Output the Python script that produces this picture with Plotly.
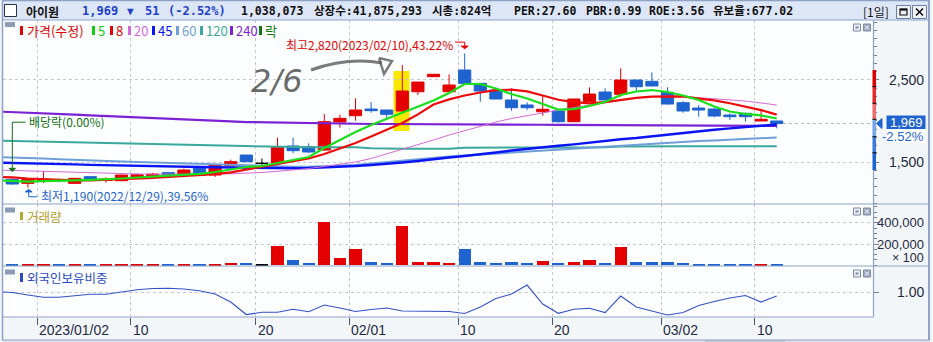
import plotly.graph_objects as go

W, H = 933, 342

# ---------------- data ----------------
dates = ["2022/12/28", "2022/12/29", "2023/01/02", "2023/01/03", "2023/01/04", "2023/01/05", "2023/01/06",
         "2023/01/09", "2023/01/10", "2023/01/11", "2023/01/12", "2023/01/13", "2023/01/16", "2023/01/17",
         "2023/01/18", "2023/01/19", "2023/01/20", "2023/01/25", "2023/01/26", "2023/01/27", "2023/01/30",
         "2023/01/31", "2023/02/01", "2023/02/02", "2023/02/03", "2023/02/06", "2023/02/07", "2023/02/08",
         "2023/02/09", "2023/02/10", "2023/02/13", "2023/02/14", "2023/02/15", "2023/02/16", "2023/02/17",
         "2023/02/20", "2023/02/21", "2023/02/22", "2023/02/23", "2023/02/24", "2023/02/27", "2023/02/28",
         "2023/03/02", "2023/03/03", "2023/03/06", "2023/03/07", "2023/03/08", "2023/03/09", "2023/03/10",
         "2023/03/13"]

opens = [1290, 1242, 1270, 1285, 1242, 1323, 1278, 1274, 1323, 1330,
         1372, 1355, 1425, 1343, 1456, 1586, 1485, 1485, 1696, 1687,
         1647, 1987, 2064, 2145, 2133, 2121, 2355, 2538, 2355, 2619,
         2457, 2376, 2255, 2194, 2112, 2121, 1991, 2234, 2352, 2324,
         2498, 2482, 2348, 2222, 2157, 2145, 2072, 2093, 2000, 2000]
highs = [1300, 1295, 1390, 1300, 1310, 1325, 1315, 1345, 1360, 1370,
         1375, 1420, 1425, 1475, 1530, 1586, 1545, 1797, 1797, 1728,
         2084, 2076, 2275, 2230, 2135, 2680, 2475, 2570, 2567, 2820,
         2457, 2404, 2397, 2227, 2303, 2121, 2267, 2409, 2397, 2640,
         2498, 2591, 2409, 2242, 2194, 2161, 2093, 2100, 2133, 2000]
lows = [1225, 1190, 1245, 1255, 1235, 1280, 1250, 1270, 1310, 1318,
        1340, 1330, 1340, 1320, 1440, 1505, 1430, 1465, 1607, 1611,
        1635, 1918, 2003, 2100, 2032, 2109, 2315, 2535, 2355, 2457,
        2234, 2267, 2125, 2133, 2064, 1979, 1991, 2234, 2255, 2295,
        2355, 2425, 2200, 2100, 2052, 2044, 2012, 1991, 2000, 1911]
closes = [1234, 1292, 1290, 1275, 1303, 1283, 1291, 1343, 1347, 1355,
          1347, 1404, 1343, 1465, 1505, 1505, 1485, 1680, 1639, 1623,
          1991, 2032, 2133, 2125, 2081, 2364, 2473, 2567, 2437, 2457,
          2364, 2267, 2161, 2161, 2142, 1991, 2267, 2327, 2255, 2498,
          2416, 2425, 2206, 2121, 2133, 2060, 2052, 2052, 2020, 1969]
volume = [9000, 9000, 9000, 8000, 9000, 8000, 9000, 9000, 9000, 9000,
          8000, 9000, 8000, 9000, 19000, 19000, 12000, 181000, 50000, 19000,
          405000, 71000, 153000, 31000, 19000, 369000, 28000, 28000, 19000, 153000,
          28000, 19000, 31000, 19000, 40000, 19000, 31000, 50000, 19000, 172000,
          28000, 28000, 28000, 19000, 9000, 9000, 9000, 9000, 9000, 9000]

# moving averages and foreign ownership: first value belongs to the session before 12/28
ma5 = [1277, 1270, 1264, 1270, 1270, 1277, 1283, 1289, 1301, 1313, 1325, 1337, 1349, 1356, 1380, 1410,
       1441, 1453, 1489, 1526, 1562, 1671, 1769, 1866, 1951, 2024, 2097, 2170, 2249, 2340, 2449, 2449,
       2394, 2327, 2273, 2206, 2139, 2145, 2182, 2230, 2315, 2358, 2376, 2352, 2309, 2255, 2176, 2115,
       2085, 2068, 2030]
ma8 = [1319, 1315, 1301, 1291, 1283, 1277, 1277, 1283, 1289, 1295, 1307, 1319, 1331, 1337, 1355, 1376,
       1410, 1444, 1477, 1507, 1544, 1598, 1665, 1732, 1811, 1890, 1975, 2080, 2200, 2262, 2310, 2346,
       2375, 2380, 2360, 2310, 2258, 2228, 2215, 2230, 2255, 2280, 2295, 2300, 2298, 2272, 2250, 2215,
       2175, 2132, 2077]
ma20 = [1404, 1398, 1392, 1386, 1380, 1374, 1368, 1362, 1358, 1356, 1353, 1352, 1352, 1353, 1356, 1358,
        1364, 1374, 1388, 1404, 1422, 1447, 1471, 1501, 1544, 1598, 1653, 1714, 1769, 1829, 1883, 1939,
        1987, 2030, 2066, 2103, 2133, 2163, 2194, 2224, 2255, 2279, 2297, 2303, 2297, 2285, 2273, 2261,
        2242, 2218, 2194]
ma45 = [1495, 1492, 1485, 1479, 1477, 1473, 1467, 1462, 1459, 1455, 1450, 1447, 1444, 1441, 1437, 1433,
        1428, 1425, 1425, 1425, 1428, 1434, 1443, 1453, 1465, 1477, 1495, 1513, 1538, 1556, 1574, 1592,
        1617, 1641, 1663, 1683, 1699, 1716, 1738, 1762, 1778, 1793, 1815, 1835, 1857, 1878, 1894, 1910,
        1924, 1939, 1957]
ma60 = [1562, 1558, 1552, 1544, 1535, 1526, 1519, 1513, 1507, 1501, 1495, 1489, 1483, 1477, 1471, 1465,
        1459, 1453, 1447, 1444, 1444, 1449, 1455, 1465, 1483, 1501, 1522, 1540, 1556, 1568, 1580, 1592,
        1598, 1611, 1623, 1637, 1650, 1665, 1674, 1690, 1702, 1710, 1720, 1736, 1744, 1756, 1763, 1771,
        1781, 1793, 1799]
ma120 = [1760, 1756, 1750, 1744, 1738, 1736, 1732, 1730, 1727, 1725, 1717, 1714, 1710, 1708, 1702, 1696,
         1690, 1684, 1681, 1680, 1680, 1680, 1680, 1680, 1668, 1663, 1663, 1663, 1663, 1663, 1675, 1677,
         1677, 1677, 1677, 1677, 1677, 1677, 1677, 1681, 1690, 1693, 1693, 1693, 1693, 1693, 1693, 1693,
         1693, 1693, 1693]
ma240 = [2115, 2109, 2103, 2097, 2088, 2078, 2069, 2060, 2050, 2040, 2030, 2022, 2015, 2008, 2001, 1994,
         1987, 1983, 1979, 1975, 1972, 1969, 1966, 1963, 1963, 1963, 1963, 1963, 1963, 1963, 1962, 1960,
         1958, 1956, 1955, 1954, 1952, 1951, 1950, 1949, 1948, 1947, 1946, 1945, 1944, 1942, 1941, 1940,
         1940, 1939, 1939]
foreign = [1.003, 0.999, 0.989, 0.980, 0.980, 0.987, 0.992, 0.992, 1.001, 1.010, 1.015, 1.016, 1.013,
           1.006, 0.993, 0.961, 0.911, 0.920, 0.920, 0.932, 0.922, 0.949, 0.937, 0.923, 0.931, 0.937,
           0.925, 0.925, 0.925, 0.923, 0.915, 0.941, 0.975, 0.993, 1.029, 0.953, 0.916, 0.932, 0.936,
           0.919, 0.985, 0.941, 0.925, 0.909, 0.919, 0.947, 0.963, 0.977, 0.987, 0.961, 0.985]

tick_dates = ["2023/01/02", "2023/01/10", "2023/01/20", "2023/02/01", "2023/02/10",
              "2023/02/20", "2023/03/02", "2023/03/10"]
tick_text = ["2023/01/02", "10", "20", "02/01", "10", "20", "03/02", "10"]
price_ticks = [1500, 2500]
price_tick_text = ["1,500", "2,500"]
volume_ticks = [200000, 400000]
volume_tick_text = ["200,000", "400,000"]
foreign_ticks = [1.00]
foreign_tick_text = ["1.00"]

stock_name = "아이원"
last_price = "1,969"
change = "51"
change_pct = "(-2.52%)"
pct_label = "-2.52%"
info_items = ["1,038,073", "상장수:41,875,293", "시총:824억", "PER:27.60", "PBR:0.99",
              "ROE:3.56", "유보율:677.02"]
ma_names = ["5", "8", "20", "45", "60", "120", "240"]

# ---------------- helpers ----------------
def fx(x):
    return x / W


def fy(y):
    return 1 - y / H


KR = "Noto Sans CJK KR, Noto Sans, sans-serif"
MONO = "DejaVu Sans Mono, Noto Sans CJK KR, monospace"
NUM = "Liberation Sans Narrow, Liberation Sans, Arial, sans-serif"
UP = "#e40000"
DN = "#1f63d0"
GRID = "#c3c8d2"
FRAME = "#8ea3c6"

shapes = []
anns = []


def rect(x0, y0, x1, y1, fill=None, line=None, lw=1, layer="above"):
    shapes.append(dict(type="rect", xref="paper", yref="paper", x0=fx(x0), x1=fx(x1), y0=fy(y1), y1=fy(y0),
                       fillcolor=fill or "rgba(0,0,0,0)",
                       line=dict(color=line or "rgba(0,0,0,0)", width=lw if line else 0), layer=layer))


def seg(x0, y0, x1, y1, color, w=1, dash="solid", layer="above"):
    shapes.append(dict(type="line", xref="paper", yref="paper", x0=fx(x0), x1=fx(x1), y0=fy(y0), y1=fy(y1),
                       line=dict(color=color, width=w, dash=dash), layer=layer))


def ppath(points, color, w=1, fill=None, close=False, layer="above"):
    d = "M " + " L ".join(f"{fx(a):.5f},{fy(b):.5f}" for a, b in points) + (" Z" if close else "")
    shapes.append(dict(type="path", xref="paper", yref="paper", path=d,
                       line=dict(color=color, width=w), fillcolor=fill or "rgba(0,0,0,0)", layer=layer))


def dpath(points, color, w=1, fill=None, close=False):
    d = "M " + " L ".join(f"{a},{b}" for a, b in points) + (" Z" if close else "")
    shapes.append(dict(type="path", xref="x", yref="y", path=d,
                       line=dict(color=color, width=w), fillcolor=fill or "rgba(0,0,0,0)", layer="above"))


def text(x, y, s, color="#000", size=12, family=KR, xanchor="left", yanchor="middle",
         xref="paper", yref="paper", bg=None, xshift=0):
    anns.append(dict(x=fx(x) if xref == "paper" else x, y=fy(y) if yref == "paper" else y,
                     xref=xref, yref=yref, text=s, showarrow=False, xanchor=xanchor, yanchor=yanchor,
                     font=dict(color=color, size=size, family=family), bgcolor=bg, borderpad=0,
                     xshift=xshift))


# ---------------- traces ----------------
fig = go.Figure()
xs = list(range(len(dates)))
xs_ma = [i - 1 for i in range(len(ma5))]

ma_styles = [(ma240, "#7b22d4", 2.2), (ma120, "#3aa99b", 2.0), (ma60, "#6f9fd7", 2.0),
             (ma45, "#0a14f5", 2.4), (ma20, "#d46ad4", 1.0), (ma8, "#ee0a0a", 2.2), (ma5, "#19e019", 2.2)]
for vals, col, w in ma_styles:
    fig.add_trace(go.Scatter(x=xs_ma, y=vals, mode="lines", line=dict(color=col, width=w),
                             hoverinfo="skip", xaxis="x", yaxis="y"))

is_doji = [o == c for o, c in zip(opens, closes)]
normal = [not d for d in is_doji]


def pick(vals, keep):
    return [v if k else None for v, k in zip(vals, keep)]


fig.add_trace(go.Candlestick(x=xs, open=pick(opens, normal), high=pick(highs, normal),
                             low=pick(lows, normal), close=pick(closes, normal),
                             increasing=dict(line=dict(color=UP, width=1), fillcolor=UP),
                             decreasing=dict(line=dict(color=DN, width=1), fillcolor=DN),
                             whiskerwidth=0, hoverinfo="skip", xaxis="x", yaxis="y"))
fig.add_trace(go.Candlestick(x=xs, open=pick(opens, is_doji), high=pick(highs, is_doji),
                             low=pick(lows, is_doji), close=pick(closes, is_doji),
                             increasing=dict(line=dict(color="#000000", width=1), fillcolor="#000000"),
                             decreasing=dict(line=dict(color="#000000", width=1), fillcolor="#000000"),
                             whiskerwidth=0, hoverinfo="skip", xaxis="x", yaxis="y"))

vol_colors = [UP if c > o else DN if c < o else "#000000" for o, c in zip(opens, closes)]
fig.add_trace(go.Bar(x=xs, y=volume, width=0.78, marker=dict(color=vol_colors, line=dict(width=0)),
                     hoverinfo="skip", xaxis="x", yaxis="y2"))

fig.add_trace(go.Scatter(x=xs_ma, y=foreign, mode="lines", line=dict(color="#3551c6", width=1.1),
                         hoverinfo="skip", xaxis="x", yaxis="y3"))

# ---------------- axes ----------------
x0_px, step_px = 12.3, 15.6
XR = [(3 - x0_px) / step_px, (873 - x0_px) / step_px]
tick_idx = [dates.index(d) for d in tick_dates]
tick_pos = [i - 0.4 for i in tick_idx]

axis_common = dict(showline=False, zeroline=False, showticklabels=False, fixedrange=True)
yax_common = dict(axis_common, anchor="x", side="right", ticks="outside", ticklen=5, tickcolor="#6f7d99",
                  showgrid=True, gridcolor=GRID, griddash="dot", gridwidth=1, tickmode="array")

fig.update_layout(
    width=W, height=H, margin=dict(l=0, r=0, t=0, b=0), autosize=False,
    paper_bgcolor="#f3f6f8", plot_bgcolor="rgba(0,0,0,0)", showlegend=False,
    boxgap=0.22, boxgroupgap=0, bargap=0,
    xaxis=dict(axis_common, domain=[fx(3), fx(873)], range=XR, anchor="y3", tickmode="array",
               tickvals=tick_pos, ticks="outside", ticklen=7, tickcolor="#4a5570",
               showgrid=True, gridcolor=GRID, griddash="dot", gridwidth=1,
               rangeslider=dict(visible=False)),
    yaxis=dict(yax_common, domain=[fy(204), fy(20)], range=[991, 3227], tickvals=price_ticks,
               minor=dict(tickmode="linear", tick0=0, dtick=100, ticks="outside", ticklen=3,
                          tickcolor="#6f7d99", showgrid=False)),
    yaxis2=dict(yax_common, domain=[fy(266), fy(204)], range=[-6600, 575600], tickvals=volume_ticks,
                minor=dict(tickmode="linear", tick0=0, dtick=50000, ticks="outside", ticklen=3,
                           tickcolor="#6f7d99", showgrid=False)),
    yaxis3=dict(yax_common, domain=[fy(317), fy(266)], range=[0.9012, 1.1052], tickvals=foreign_ticks),
)

# ---------------- backgrounds / frame ----------------
rect(3, 20, 873, 317, fill="#fcfeff", layer="below")
rect(2, 0.5, 930, 20, fill="#dde6f6", layer="below")
# yellow highlight behind the 02/06 candle
shapes.append(dict(type="path", xref="paper", yref="paper", layer="below",
                   path=("M {a},{b} L {c},{b} L {c},{d} L {a},{d} Z".format(
                       a=fx(394.5), b=fy(72), c=fx(408.5), d=fy(130))),
                   fillcolor="#f8e800", line=dict(color="#f8e800", width=2)))
# scrollbar strip
rect(3, 340, 930, 342, fill="#dde2ea", layer="below")
rect(705, 340, 785, 342, fill="#c3c9d3", layer="below")

seg(2.5, 0.5, 2.5, 340, FRAME, 1.5)
seg(929, 0.5, 929, 340, FRAME, 2)
seg(2, 0.5, 930, 0.5, FRAME, 1.5)
seg(2, 20, 930, 20, FRAME, 1.2)
seg(873.5, 20, 873.5, 317, FRAME, 1.2)
seg(2, 204, 930, 204, FRAME, 1.2)
seg(2, 266, 930, 266, FRAME, 1.2)
seg(2, 317, 873.5, 317, FRAME, 1.2)
seg(2, 340, 930, 340, FRAME, 1)

# title bar widgets
rect(4.5, 4.5, 16.5, 16.5, fill="#ffffff", line="#2e3646", lw=1)
rect(896.5, 5.5, 910.5, 18.5, fill="#eef1f6", line="#6f7f9f", lw=1)
rect(900, 9, 907, 15, fill=None, line="#111111", lw=1.2)
seg(900, 9.6, 907, 9.6, "#111111", 2)
rect(912.5, 5.5, 926.5, 18.5, fill="#eef1f6", line="#6f7f9f", lw=1)
seg(916, 8.5, 923, 15.5, "#111111", 1.6)
seg(923, 8.5, 916, 15.5, "#111111", 1.6)

# panel icons (legend tag + window buttons)
for ytop in (24, 208, 270):
    rect(853.5, ytop, 860.5, ytop + 7, fill="#e9eef5", line="#7c8aa5", lw=1)
    rect(855.5, ytop + 2.5, 858.5, ytop + 4.5, fill="#7c8aa5")
    rect(863.5, ytop, 870.5, ytop + 7, fill="#9aa8bf", line="#7c8aa5", lw=1)
    seg(865, ytop + 1.5, 869, ytop + 5.5, "#ffffff", 1)
    seg(869, ytop + 1.5, 865, ytop + 5.5, "#ffffff", 1)
for ytop in (22, 207.5, 269.5):
    rect(5, ytop, 15, ytop + 5, fill="#8b9bb8")

# ---------------- title bar text ----------------
text(25, 11, "<b>" + stock_name + "</b>", "#111111", 12, KR)
text(81, 11, "<b>" + last_price + "</b>", "#1f3fc8", 12, MONO)
text(126, 11, "▼", "#1f3fc8", 11, MONO)
text(144, 11, "<b>" + change + "</b>", "#1f3fc8", 12, MONO)
text(167, 11, "<b>" + change_pct + "</b>", "#1f3fc8", 12, MONO)
for xpos, s in zip([240, 313, 431, 513, 585, 648, 712], info_items):
    text(xpos, 11, "<b>" + s + "</b>", "#111111", 11.5, MONO)
text(862, 11.5, "[1일]", "#111111", 12, KR)

# ---------------- legends ----------------
legend_cols = ["#11cc11", "#e40000", "#d46ad4", "#0a14f5", "#6f9fd7", "#3aa99b", "#7b22d4"]
rect(20, 26, 23, 35, fill=UP)
text(26, 30, "가격(수정)", UP, 13, KR)
xpos_m = [92, 110, 128, 152, 176, 200, 230]
for xm, name, col in zip(xpos_m, ma_names, legend_cols):
    rect(xm, 26, xm + 3, 35, fill=col)
    text(xm + 5, 30, name, col, 13, KR)
rect(259, 26, 262, 35, fill="#107a10")
text(264, 30, "락", "#107a10", 13, KR)

rect(20, 212, 23, 220, fill="#b8a830")
text(26, 216, "거래량", "#b3a22a", 12.5, KR)
rect(20, 273, 23, 282, fill="#2d4bc0")
text(26, 277.5, "외국인보유비중", "#2d4bc0", 12.5, KR)

# ---------------- axis labels ----------------
for v, s in zip(price_ticks, price_tick_text):
    text(925, v, s, "#1f2a44", 14, NUM, xanchor="right", yref="y")
for v, s in zip(volume_ticks, volume_tick_text):
    text(925, v, s, "#1f2a44", 13, NUM, xanchor="right", yref="y2")
text(925, 257.5, "× 100", "#1f2a44", 12.5, NUM, xanchor="right")
for v, s in zip(foreign_ticks, foreign_tick_text):
    text(925, v, s, "#1f2a44", 14, NUM, xanchor="right", yref="y3")
for p, s in zip(tick_pos, tick_text):
    text(p, 329.5, s, "#1f2a44", 14, NUM, xref="x", xshift=1)

# right-hand price band and current price marker
band = [(70, 86.7, "#e00000"), (86.7, 103.3, "#e62a2a"), (103.3, 119.3, "#f06a6a"),
        (119.3, 136.7, "#76a4e6"), (136.7, 152.7, "#3c7bdc"), (152.7, 170, "#1d62d2")]
for y0, y1, col in band:
    rect(872.5, y0, 876, y1, fill=col)
for yb in (86.7, 103.3, 119.3, 136.7, 152.7):
    seg(872.5, yb, 876.5, yb, "#000000", 1)
ppath([(876.5, 123.5), (882, 118.5), (882, 128.5)], DN, 1, fill=DN, close=True)
rect(886.5, 115.5, 925.5, 129, fill=DN)
text(906, 122.3, last_price, "#ffffff", 13, NUM, xanchor="center")
rect(886.5, 129.5, 925.5, 142.5, fill="#ffffff")
text(925, 136.3, pct_label, DN, 13, NUM, xanchor="right")

# dotted current price line right of the last candle
last_close = closes[-1]
shapes.append(dict(type="line", xref="paper", yref="y", x0=fx(783), x1=fx(873), y0=last_close, y1=last_close,
                   line=dict(color="#b5bac6", width=1, dash="dot"), layer="above"))

# ---------------- chart annotations ----------------
hi_i = highs.index(max(highs))
hi = highs[hi_i]
dpath([(hi_i - 0.62, hi + 138), (hi_i, hi + 138), (hi_i, hi + 80)], UP, 1)
dpath([(hi_i - 0.22, hi + 90), (hi_i + 0.22, hi + 90), (hi_i, hi + 58)], UP, 1, fill=UP, close=True)
text(hi_i - 0.66, hi + 112, "최고2,820(2023/02/10),43.22%", UP, 12, KR, xanchor="right", xref="x", yref="y")

lo_i = lows.index(min(lows))
lo = lows[lo_i]
dpath([(lo_i + 0.6, lo - 111), (lo_i + 0.05, lo - 111), (lo_i + 0.05, lo - 50)], DN, 1)
dpath([(lo_i - 0.17, lo - 52), (lo_i + 0.27, lo - 52), (lo_i + 0.05, lo - 22)], DN, 1, fill=DN, close=True)
text(lo_i + 0.77, lo - 100, "최저1,190(2022/12/29),39.56%", DN, 12, KR, xref="x", yref="y")

ex_i = 0
GREEN = "#137013"
dpath([(ex_i + 0.85, 1985), (ex_i, 1985), (ex_i, 1420)], GREEN, 1)
dpath([(ex_i - 0.2, 1425), (ex_i + 0.2, 1425), (ex_i, 1385)], GREEN, 1, fill=GREEN, close=True)
text(ex_i + 0.98, 1988, "배당락(0.00%)", GREEN, 12, KR, xref="x", yref="y")

# hand-drawn note
text(277, 81, "<i>2/6</i>", "rgba(80,80,80,0.85)", 32, "DejaVu Sans", xanchor="center")
shapes.append(dict(type="path", xref="paper", yref="paper", layer="above",
                   path="M {},{} Q {},{} {},{}".format(fx(311), fy(70), fx(348), fy(57), fx(382), fy(63)),
                   line=dict(color="rgba(90,90,90,0.8)", width=3)))
ppath([(379, 58), (392, 61), (384, 74), (379, 58)], "rgba(90,90,90,0.8)", 2.5)

fig.update_layout(shapes=shapes, annotations=anns)
fig.write_html("out.html")
